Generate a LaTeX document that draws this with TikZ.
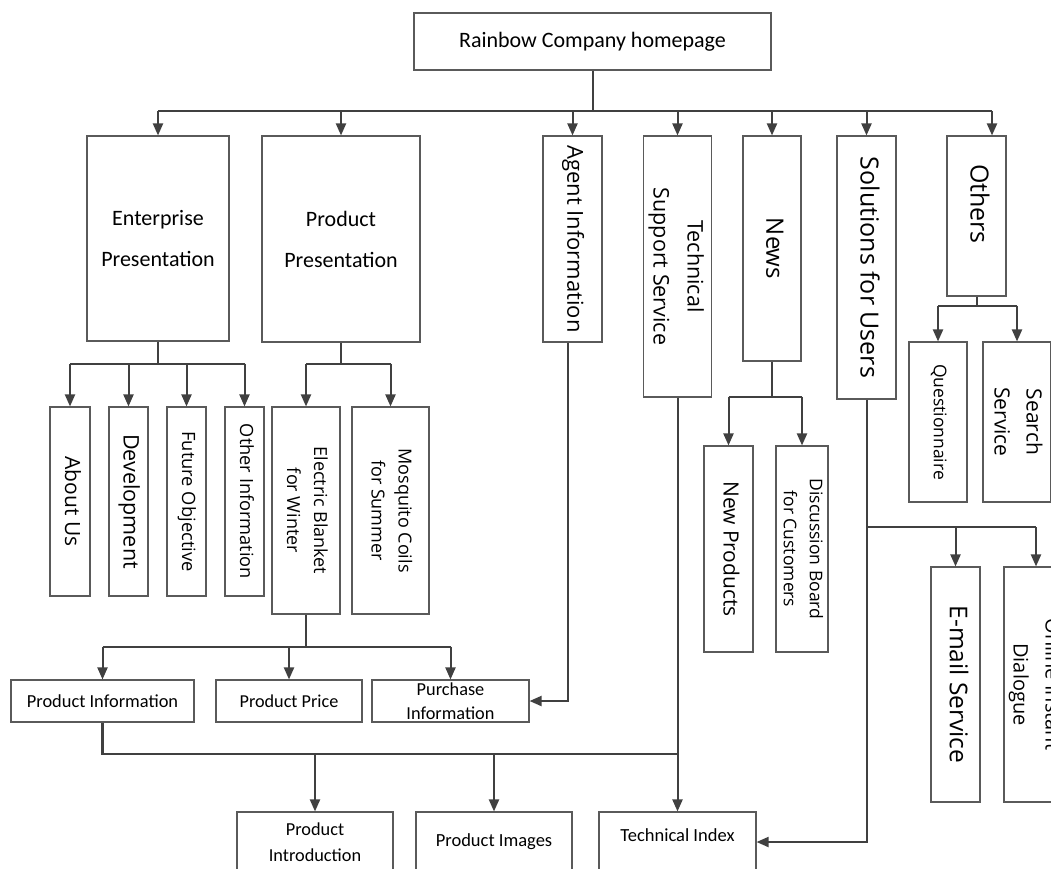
\documentclass[tikz,border=0pt]{standalone}
\usepackage{fontspec}
\usetikzlibrary{arrows.meta}
\newfontfamily\osans{Open Sans}
\newfontfamily\carl{Carlito}
\definecolor{linec}{HTML}{404040}
\definecolor{boxc}{HTML}{5A5A5A}
% vertical label: text reads top to bottom, first line on the right
\newcommand{\vlab}[3]{\rotatebox{-90}{\fontsize{#1}{#2}\selectfont\begin{tabular}{@{}c@{}}#3\end{tabular}}}
\tikzset{
  box/.style={draw=boxc, line width=1.1pt, fill=white, inner sep=0pt, font=\osans},
  hbox/.style={box, font=\carl, align=center},
  link/.style={draw=linec, line width=2pt},
  arr/.style={link, -{Triangle[length=12pt,width=10pt]}},
}
\begin{document}
\begin{tikzpicture}[x=1pt,y=-1pt]
\path[use as bounding box, clip] (0,0) rectangle (1051,868);

% root
\node[hbox, minimum width=357pt, minimum height=57pt, font=\carl\fontsize{22}{26}\selectfont]
  (home) at (592.5,41.5) {\raisebox{-4pt}{Rainbow Company homepage}};

% first level
\node[hbox, minimum width=142pt, minimum height=205pt, font=\carl\fontsize{22}{41}\selectfont]
  (ent) at (158,238.5) {Enterprise\\Presentation};
\node[hbox, minimum width=158pt, minimum height=206pt, font=\carl\fontsize{22}{41}\selectfont]
  (prod) at (341,239) {Product\\Presentation};
\node[box, minimum width=59pt, minimum height=206pt] (agent) at (572.5,239) {\vlab{22}{26}{Agent Information}};
\node[box, minimum width=59pt, minimum height=261pt] (tech) at (677.5,266.5) {\vlab{21.5}{34}{Technical\\Support Service}};
\node[box, minimum width=58pt, minimum height=225pt] (news) at (772,248.5) {\vlab{24}{28}{News}};
\node[box, minimum width=59pt, minimum height=263pt] (sol) at (866.5,267.5) {\vlab{25}{29}{Solutions for Users}};
\node[box, minimum width=59pt, minimum height=160pt] (oth) at (976.5,216) {\vlab{25}{29}{Others\rule{24pt}{0pt}}};

% enterprise children
\node[box, minimum width=40pt, minimum height=189pt] (about) at (70,501.5) {\vlab{21}{25}{About Us}};
\node[box, minimum width=39pt, minimum height=189pt] (dev) at (128.5,501.5) {\vlab{21.5}{25}{Development}};
\node[box, minimum width=39pt, minimum height=189pt] (fut) at (186.5,501.5) {\vlab{18.3}{22}{Future Objective}};
\node[box, minimum width=39pt, minimum height=189pt] (oinf) at (244.5,501.5) {\vlab{18.2}{22}{Other Information}};

% product children
\node[box, minimum width=68pt, minimum height=207pt] (eb) at (306,510.5) {\vlab{18}{27}{Electric Blanket\\for Winter}};
\node[box, minimum width=77pt, minimum height=207pt] (mc) at (390.5,510.5) {\vlab{18}{27}{Mosquito Coils\\for Summer}};

% product detail pages
\node[hbox, minimum width=183pt, minimum height=42pt, font=\carl\fontsize{18.4}{22}\selectfont]
  (pinfo) at (102.5,701) {\raisebox{-5pt}{Product Information}};
\node[hbox, minimum width=146pt, minimum height=42pt, font=\carl\fontsize{18.2}{22}\selectfont]
  (pprice) at (289,701) {Product Price};
\node[hbox, minimum width=157pt, minimum height=42pt, font=\carl\fontsize{18.3}{24}\selectfont]
  (purch) at (450.5,701) {Purchase\\Information};

% bottom row
\node[hbox, minimum width=156pt, minimum height=60pt, font=\carl\fontsize{18.3}{26}\selectfont]
  (pintro) at (315,842) {Product\\Introduction};
\node[hbox, minimum width=156pt, minimum height=60pt, font=\carl\fontsize{18.5}{22}\selectfont]
  (pimg) at (494,842) {Product Images};
\node[hbox, minimum width=157pt, minimum height=60pt, font=\carl\fontsize{18.5}{26}\selectfont]
  (tidx) at (677.5,842) {\raisebox{13pt}{Technical Index}};

% news children
\node[box, minimum width=49pt, minimum height=206pt] (newp) at (728.5,549) {\vlab{21}{25}{New Products}};
\node[box, minimum width=48pt, minimum height=206pt] (disc) at (802,549) {\vlab{17.5}{26}{Discussion Board\\for Customers}};

% others children
\node[box, minimum width=58pt, minimum height=160pt] (quest) at (938,422) {\vlab{17.5}{21}{Questionnaire}};
\node[box, minimum width=68pt, minimum height=160pt] (search) at (1017,422) {\vlab{21}{32}{Search\\Service}};

% solutions children
\node[box, minimum width=49pt, minimum height=235pt] (email) at (955.5,684.5) {\vlab{24.5}{28}{E-mail Service}};
\node[box, minimum width=50pt, minimum height=235pt] (online) at (1036,684.5) {\vlab{20}{32}{Online Instant\\Dialogue}};

% root to first level
\coordinate (b0) at (592.5,111);
\draw[link] (home.south) -- (b0);
\draw[link, line width=2.4pt] (ent.north |- b0) -- ([xshift=15.5pt]oth.north |- b0);
\foreach \n in {ent,prod,agent,tech,news,sol}
  \draw[arr] (\n.north |- b0) -- (\n.north);
\draw[arr] ([xshift=15.5pt]oth.north |- b0) -- ([xshift=15.5pt]oth.north);

% enterprise branch
\draw[link] (ent.south) -- ++(0,22) coordinate (e1);
\draw[link] (about.north |- e1) -- (oinf.north |- e1);
\foreach \n in {about,dev,fut,oinf}
  \draw[arr] (\n.north |- e1) -- (\n.north);

% product branch
\draw[link] (prod.south) -- ++(0,21) coordinate (p1);
\draw[link] (eb.north |- p1) -- (mc.north |- p1);
\foreach \n in {eb,mc}
  \draw[arr] (\n.north |- p1) -- (\n.north);

% electric blanket branch
\draw[link] (eb.south) -- ++(0,32) coordinate (q1);
\draw[link] (pinfo.north |- q1) -- (purch.north |- q1);
\foreach \n in {pinfo,pprice,purch}
  \draw[arr] (\n.north |- q1) -- (\n.north);

% agent information to purchase information
\draw[arr] ([xshift=-4.5pt]agent.south) |- (purch.east);

% product information and technical support to the bottom row
\coordinate (r1) at (0,754);
\draw[link, line width=2.4pt] (pinfo.south) |- (tech.south |- r1);
\draw[arr] (tech.south) -- (tidx.north);
\foreach \n in {pintro,pimg}
  \draw[arr] (\n.north |- r1) -- (\n.north);

% news branch
\draw[link] (news.south) -- ++(0,35) coordinate (n1);
\draw[link] (newp.north |- n1) -- (disc.north |- n1);
\foreach \n in {newp,disc}
  \draw[arr] (\n.north |- n1) -- (\n.north);

% others branch
\draw[link] (oth.south) -- ++(0,9) coordinate (o1);
\draw[link] (quest.north |- o1) -- (search.north |- o1);
\foreach \n in {quest,search}
  \draw[arr] (\n.north |- o1) -- (\n.north);

% solutions branch
\draw[arr] (sol.south) |- (tidx.east);
\coordinate (s1) at (0,527);
\draw[link] (sol.south |- s1) -- (online.north |- s1);
\foreach \n in {email,online}
  \draw[arr] (\n.north |- s1) -- (\n.north);
\end{tikzpicture}
\end{document}
